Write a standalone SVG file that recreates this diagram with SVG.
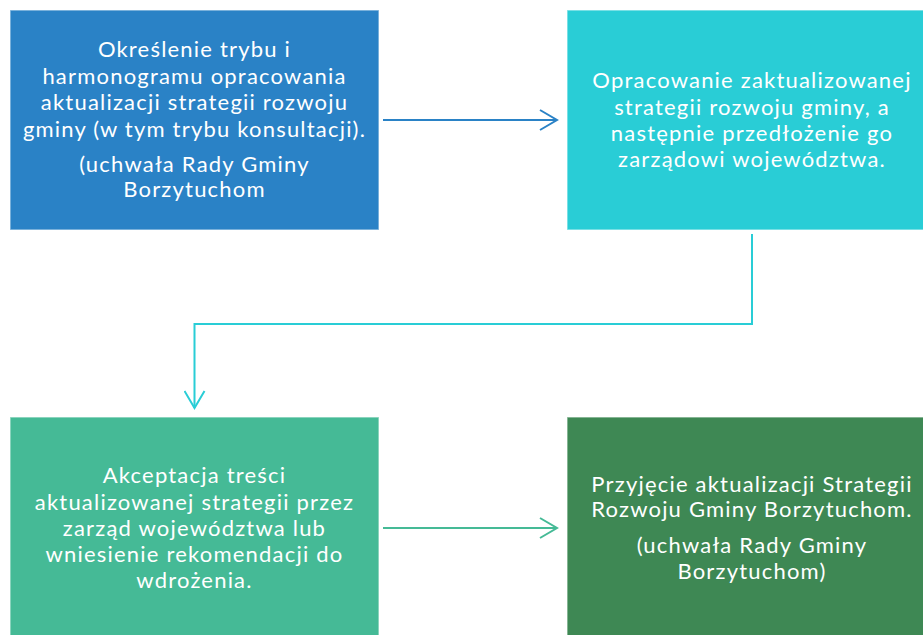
<svg xmlns="http://www.w3.org/2000/svg" width="923" height="635" viewBox="0 0 923 635">
<defs>
<style>
.box{stroke:#ffffff;stroke-opacity:0.5;stroke-width:1.5}
.t{font-family:Lato,"Open Sans","DejaVu Sans",sans-serif;font-size:22px;fill:#ffffff;text-anchor:middle;letter-spacing:1.2px}
.c{fill:none;stroke-width:2}
</style>
<marker id="ab" viewBox="0 0 20 22" refX="18" refY="11" markerWidth="20" markerHeight="22" markerUnits="userSpaceOnUse" orient="auto"><path d="M1,1 L18,11 L1,21" fill="none" stroke="#2A82C6" stroke-width="2"/></marker>
<marker id="ac" viewBox="0 0 20 22" refX="18" refY="11" markerWidth="20" markerHeight="22" markerUnits="userSpaceOnUse" orient="auto"><path d="M1,1 L18,11 L1,21" fill="none" stroke="#29CDD6" stroke-width="2"/></marker>
<marker id="ag" viewBox="0 0 20 22" refX="18" refY="11" markerWidth="20" markerHeight="22" markerUnits="userSpaceOnUse" orient="auto"><path d="M1,1 L18,11 L1,21" fill="none" stroke="#45BA96" stroke-width="2"/></marker>
</defs>
<rect width="923" height="635" fill="#ffffff"/>
<g id="connectors">
<path class="c" d="M383,120 H557" stroke="#2A82C6" marker-end="url(#ab)"/>
<path class="c" d="M752,234 V324 H194.5 V408" stroke="#29CDD6" marker-end="url(#ac)"/>
<path class="c" d="M383,528 H557" stroke="#45BA96" marker-end="url(#ag)"/>
</g>
<g id="node1">
<rect class="box" x="10" y="10" width="369" height="220" fill="#2A82C6"/>
<text class="t"><tspan x="194.5" y="57">Określenie trybu i</tspan><tspan x="194.5" y="83.5">harmonogramu opracowania</tspan><tspan x="194.5" y="110">aktualizacji strategii rozwoju</tspan><tspan x="194.5" y="136.5">gminy (w tym trybu konsultacji).</tspan><tspan x="194.5" y="172">(uchwała Rady Gminy</tspan><tspan x="194.5" y="197">Borzytuchom</tspan></text>
</g>
<g id="node2">
<rect class="box" x="567" y="10" width="369" height="220" fill="#29CDD6"/>
<text class="t"><tspan x="752" y="88">Opracowanie zaktualizowanej</tspan><tspan x="752" y="114.5">strategii rozwoju gminy, a</tspan><tspan x="752" y="140.5">następnie przedłożenie go</tspan><tspan x="752" y="167">zarządowi województwa.</tspan></text>
</g>
<g id="node3">
<rect class="box" x="10" y="417" width="369" height="225" fill="#45BA96"/>
<text class="t"><tspan x="194.5" y="483">Akceptacja treści</tspan><tspan x="194.5" y="509.5">aktualizowanej strategii przez</tspan><tspan x="194.5" y="535.5">zarząd województwa lub</tspan><tspan x="194.5" y="561.5">wniesienie rekomendacji do</tspan><tspan x="194.5" y="587.5">wdrożenia.</tspan></text>
</g>
<g id="node4">
<rect class="box" x="567" y="417" width="369" height="225" fill="#3E8854"/>
<text class="t"><tspan x="752" y="492">Przyjęcie aktualizacji Strategii</tspan><tspan x="752" y="517">Rozwoju Gminy Borzytuchom.</tspan><tspan x="752" y="553">(uchwała Rady Gminy</tspan><tspan x="752" y="579">Borzytuchom)</tspan></text>
</g>
</svg>
